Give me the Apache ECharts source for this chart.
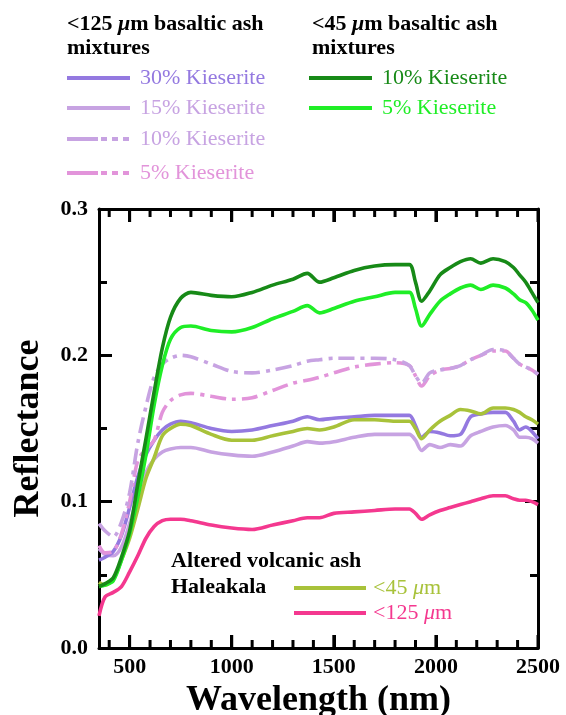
<!DOCTYPE html>
<html>
<head>
<meta charset="utf-8">
<script src="https://cdn.jsdelivr.net/npm/echarts@6/dist/echarts.min.js"></script>
<style>
  html, body { margin: 0; padding: 0; background: #fff; }
  #chart { width: 566px; height: 715px; }
</style>
</head>
<body>
<div id="chart"></div>
<script>
// wavelength grid (nm)
const wavelength = [350, 380, 420, 460, 500, 540, 580, 620, 660, 700, 750, 800, 900, 1000, 1100, 1200, 1300, 1370, 1430, 1500,
  1600, 1700, 1800, 1870, 1900, 1930, 1970, 2020, 2070, 2120, 2170, 2220, 2280, 2340, 2380, 2410, 2440, 2470, 2500];

// <45 um basaltic ash mixtures
const ash45Kies10 = [0.042, 0.044, 0.048, 0.062, 0.080, 0.112, 0.143, 0.175, 0.205, 0.226, 0.239, 0.243, 0.241, 0.240, 0.243, 0.248, 0.252, 0.256, 0.250, 0.253,
  0.258, 0.261, 0.262, 0.262, 0.250, 0.237, 0.244, 0.255, 0.260, 0.264, 0.266, 0.263, 0.266, 0.264, 0.260, 0.255, 0.250, 0.243, 0.236];
const ash45Kies5 = [0.042, 0.043, 0.046, 0.060, 0.078, 0.103, 0.132, 0.166, 0.193, 0.211, 0.219, 0.220, 0.217, 0.216, 0.219, 0.225, 0.230, 0.234, 0.229, 0.232,
  0.237, 0.240, 0.243, 0.243, 0.232, 0.220, 0.228, 0.237, 0.242, 0.246, 0.248, 0.245, 0.248, 0.246, 0.242, 0.238, 0.236, 0.231, 0.224];

// <125 um basaltic ash mixtures
const ash125Kies30 = [0.060, 0.062, 0.066, 0.077, 0.096, 0.117, 0.132, 0.142, 0.149, 0.153, 0.155, 0.154, 0.150, 0.148, 0.149, 0.152, 0.155, 0.158, 0.156, 0.157,
  0.158, 0.159, 0.159, 0.159, 0.152, 0.144, 0.148, 0.147, 0.145, 0.146, 0.158, 0.160, 0.161, 0.161, 0.155, 0.149, 0.151, 0.148, 0.143];
const ash125Kies15 = [0.068, 0.064, 0.063, 0.069, 0.085, 0.104, 0.120, 0.129, 0.134, 0.136, 0.137, 0.137, 0.134, 0.132, 0.131, 0.134, 0.138, 0.141, 0.140, 0.141,
  0.144, 0.146, 0.146, 0.146, 0.142, 0.135, 0.139, 0.137, 0.139, 0.138, 0.145, 0.148, 0.151, 0.152, 0.149, 0.144, 0.144, 0.143, 0.140];
const ash125Kies10 = [0.085, 0.080, 0.076, 0.086, 0.106, 0.140, 0.165, 0.185, 0.194, 0.198, 0.200, 0.199, 0.194, 0.189, 0.188, 0.190, 0.193, 0.196, 0.197, 0.198,
  0.198, 0.198, 0.197, 0.193, 0.186, 0.181, 0.188, 0.190, 0.191, 0.193, 0.197, 0.200, 0.204, 0.203, 0.198, 0.194, 0.192, 0.190, 0.187];
const ash125Kies5 = [0.070, 0.065, 0.066, 0.078, 0.100, 0.128, 0.136, 0.142, 0.161, 0.169, 0.173, 0.174, 0.172, 0.170, 0.171, 0.176, 0.181, 0.183, 0.185, 0.188,
  0.192, 0.194, 0.195, 0.193, 0.186, 0.179, 0.186, 0.190, 0.191, 0.193, 0.197, 0.200, 0.203, 0.203, 0.198, 0.194, 0.192, 0.190, 0.187];

// altered volcanic ash, Haleakala
const haleakala45 = [0.045, 0.043, 0.047, 0.060, 0.075, 0.095, 0.116, 0.130, 0.145, 0.150, 0.153, 0.152, 0.146, 0.142, 0.142, 0.145, 0.148, 0.150, 0.149, 0.151,
  0.156, 0.156, 0.155, 0.155, 0.150, 0.143, 0.149, 0.155, 0.159, 0.163, 0.162, 0.160, 0.164, 0.164, 0.163, 0.161, 0.158, 0.156, 0.153];
const haleakala125 = [0.022, 0.035, 0.038, 0.042, 0.052, 0.063, 0.075, 0.083, 0.087, 0.088, 0.088, 0.087, 0.084, 0.082, 0.081, 0.084, 0.087, 0.089, 0.089, 0.092,
  0.093, 0.094, 0.095, 0.095, 0.092, 0.088, 0.091, 0.094, 0.096, 0.098, 0.100, 0.102, 0.104, 0.104, 0.102, 0.101, 0.101, 0.100, 0.098];

const xMajorTicks = [500, 1000, 1500, 2000, 2500];
const xMinorTicks = [400, 600, 700, 800, 900, 1100, 1200, 1300, 1400, 1600, 1700, 1800, 1900, 2100, 2200, 2300, 2400];

const C = {
  k30: '#9479e0', k15: '#c7a3e2', k10: '#c7a3e2', k5: '#e294da',
  g10: '#178a17', g5: '#1fee26', h45: '#a8c23a', h125: '#f4388f'
};
const SERIF = "'Liberation Serif', 'Times New Roman', serif";
const dashDot = [16, 6, 4, 6];
const TICK = '#000';

const chart = echarts.init(document.getElementById('chart'));

function pairs(vals) { return wavelength.map((w, i) => [w, vals[i]]); }
function line(name, vals, color, type) {
  return {
    name, type: 'line', data: pairs(vals),
    showSymbol: false, smooth: 0.3, animation: false,
    lineStyle: { color, width: 3.6, type: type || 'solid' }
  };
}

const frameLine = () => ({ show: true, onZero: false, lineStyle: { color: '#000', width: 3 } });
const tickStyle = () => ({ width: 3, color: TICK });

function legendItem(x, y, color, text, dashed) {
  const items = [];
  if (dashed) {
    items.push({ type: 'line', shape: { x1: x, y1: y, x2: x + 31, y2: y }, style: { stroke: color, lineWidth: 4 } });
    items.push({ type: 'line', shape: { x1: x + 34, y1: y, x2: x + 63, y2: y }, style: { stroke: color, lineWidth: 4, lineDash: [6, 5] } });
  } else {
    items.push({ type: 'line', shape: { x1: x, y1: y, x2: x + 63, y2: y }, style: { stroke: color, lineWidth: 4 } });
  }
  items.push({ type: 'text', x: x + 73, y: y, style: { text, fill: color, fontFamily: SERIF, fontSize: 22, verticalAlign: 'middle' } });
  return items;
}
const titleRich = { mu: { fontFamily: SERIF, fontSize: 22, fontWeight: 'bold', fontStyle: 'italic' } };
function title(x, y, text) {
  return { type: 'text', x, y, style: { text, fill: '#000', fontFamily: SERIF, fontSize: 22, fontWeight: 'bold', verticalAlign: 'middle', rich: titleRich } };
}
const muRich = (color) => ({ mu: { fontFamily: SERIF, fontSize: 22, fontStyle: 'italic', fill: color } });

const legendGraphics = [
  title(67, 24, '<125 {mu|μ}m basaltic ash'),
  title(67, 48, 'mixtures'),
  ...legendItem(67, 78, C.k30, '30% Kieserite'),
  ...legendItem(67, 108, C.k15, '15% Kieserite'),
  ...legendItem(67, 139, C.k10, '10% Kieserite', true),
  ...legendItem(67, 173, C.k5, '5% Kieserite', true),
  title(312, 24, '<45 {mu|μ}m basaltic ash'),
  title(312, 48, 'mixtures'),
  ...legendItem(309, 78, C.g10, '10% Kieserite'),
  ...legendItem(309, 108, C.g5, '5% Kieserite'),
  title(171, 561, 'Altered volcanic ash'),
  title(171, 587, 'Haleakala'),
  { type: 'line', shape: { x1: 294, y1: 588, x2: 366, y2: 588 }, style: { stroke: C.h45, lineWidth: 4 } },
  { type: 'line', shape: { x1: 294, y1: 613, x2: 366, y2: 613 }, style: { stroke: C.h125, lineWidth: 4 } },
  { type: 'text', x: 373, y: 588, style: { text: '<45 {mu|μ}m', fill: C.h45, fontFamily: SERIF, fontSize: 22, verticalAlign: 'middle', rich: muRich(C.h45) } },
  { type: 'text', x: 373, y: 613, style: { text: '<125 {mu|μ}m', fill: C.h125, fontFamily: SERIF, fontSize: 22, verticalAlign: 'middle', rich: muRich(C.h125) } }
];

const option = {
  backgroundColor: '#fff',
  animation: false,
  grid: { left: 99, top: 209, right: 28, bottom: 67, containLabel: false, outerBoundsMode: 'none' },
  xAxis: [
    { type: 'value', position: 'bottom', min: 350, max: 2500, axisLine: frameLine(),
      axisTick: { show: true, inside: true, length: 13, customValues: xMajorTicks, lineStyle: tickStyle() },
      axisLabel: { show: true, customValues: xMajorTicks, margin: 8, color: '#000', fontFamily: SERIF, fontWeight: 'bold', fontSize: 22,
        formatter: v => String(v) },
      splitLine: { show: false },
      name: 'Wavelength (nm)', nameLocation: 'middle', nameGap: 32,
      nameTextStyle: { color: '#000', fontFamily: SERIF, fontWeight: 'bold', fontSize: 36 } },
    { type: 'value', position: 'top', min: 350, max: 2500, axisLine: frameLine(),
      axisTick: { show: true, inside: true, length: 13, customValues: xMajorTicks, lineStyle: tickStyle() },
      axisLabel: { show: false }, splitLine: { show: false } }
  ],
  yAxis: [
    { type: 'value', position: 'left', min: 0, max: 0.3, interval: 0.1, axisLine: frameLine(),
      axisTick: { show: true, inside: true, length: 13, lineStyle: tickStyle() },
      minorTick: { show: true, splitNumber: 2, length: 8, lineStyle: tickStyle() },
      axisLabel: { margin: 11, color: '#000', fontFamily: SERIF, fontWeight: 'bold', fontSize: 22, formatter: v => v.toFixed(1) },
      splitLine: { show: false }, minorSplitLine: { show: false },
      name: 'Reflectance', nameLocation: 'middle', nameGap: 52,
      nameTextStyle: { color: '#000', fontFamily: SERIF, fontWeight: 'bold', fontSize: 36 } },
    { type: 'value', position: 'right', min: 0, max: 0.3, interval: 0.1, axisLine: frameLine(),
      axisTick: { show: true, inside: true, length: 13, lineStyle: tickStyle() },
      minorTick: { show: true, splitNumber: 2, length: 8, lineStyle: tickStyle() },
      axisLabel: { show: false }, splitLine: { show: false }, minorSplitLine: { show: false } }
  ],
  series: [
    line('<125 µm 15% Kieserite', ash125Kies15, C.k15),
    line('<125 µm 30% Kieserite', ash125Kies30, C.k30),
    line('<125 µm 5% Kieserite', ash125Kies5, C.k5, dashDot),
    line('<125 µm 10% Kieserite', ash125Kies10, C.k10, dashDot),
    line('Haleakala <125 µm', haleakala125, C.h125),
    line('Haleakala <45 µm', haleakala45, C.h45),
    line('<45 µm 5% Kieserite', ash45Kies5, C.g5),
    line('<45 µm 10% Kieserite', ash45Kies10, C.g10)
  ],
  graphic: legendGraphics
};

chart.setOption(option);

// x ticks (inside, top and bottom), placed through the axis scale
const yBottom = chart.convertToPixel({ yAxisIndex: 0 }, 0);
const yTop = chart.convertToPixel({ yAxisIndex: 0 }, 0.3);
const tickGraphics = [];
function addTick(v, len) {
  const px = chart.convertToPixel({ xAxisIndex: 0 }, v);
  tickGraphics.push({ type: 'line', z: 100, shape: { x1: px, y1: yBottom, x2: px, y2: yBottom - len }, style: { stroke: TICK, lineWidth: 3 } });
  tickGraphics.push({ type: 'line', z: 100, shape: { x1: px, y1: yTop, x2: px, y2: yTop + len }, style: { stroke: TICK, lineWidth: 3 } });
}
xMajorTicks.forEach(v => addTick(v, 13));
xMinorTicks.forEach(v => addTick(v, 8));
chart.setOption({ graphic: legendGraphics.concat(tickGraphics) });
</script>
</body>
</html>
